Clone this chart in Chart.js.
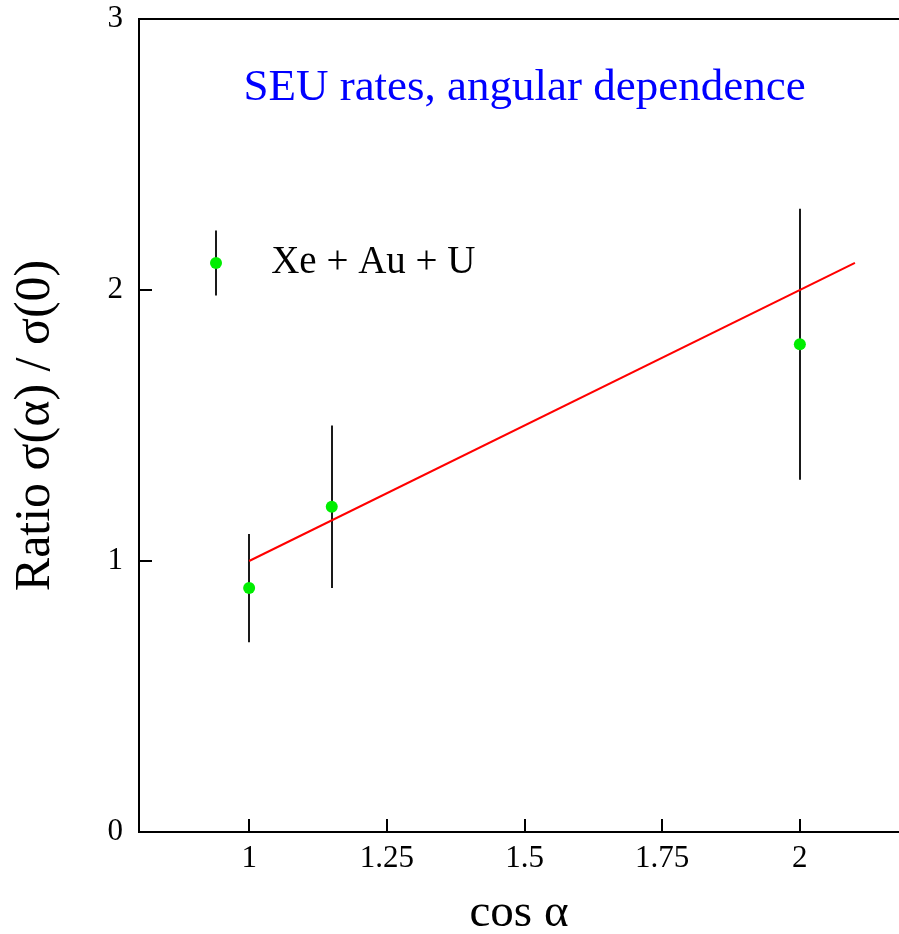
<!DOCTYPE html>
<html>
<head>
<meta charset="utf-8">
<script src="https://cdn.jsdelivr.net/npm/chart.js@4/dist/chart.umd.min.js"></script>
<style>
html,body{margin:0;padding:0;background:#fff;}
canvas{display:block;}
</style>
</head>
<body>
<canvas id="c" width="899" height="934"></canvas>
<script>
// ---- data ----
const cosAlpha = [1.0, 1.15, 2.0];
const ratio    = [0.9, 1.2, 1.8];
const errLow   = [0.7, 0.9, 1.3];
const errHigh  = [1.1, 1.5, 2.3];
const fitX     = [1.0, 2.1];
const fitY     = [1.0, 2.1];
const xTickValues = [1, 1.25, 1.5, 1.75, 2];
const xTickLabels = ['1', '1.25', '1.5', '1.75', '2'];
const yTickValues = [0, 1, 2, 3];
const yTickLabels = ['0', '1', '2', '3'];
const seriesName = 'Xe + Au + U';
const chartTitle = 'SEU rates, angular dependence';
// legend sample (in data units)
const legendSample = {x: 0.94, y: 2.1, low: 1.98, high: 2.22, textX: 1.04};
const titleAnchor = {x: 1.5, y: 2.745};

const SERIF = '"Liberation Serif", "DejaVu Serif", serif';

const decor = {
  id: 'decor',
  beforeDatasetsDraw(chart) {
    const {ctx, chartArea: a, scales: {x, y}} = chart;
    ctx.save();
    // top frame line
    ctx.strokeStyle = '#000';
    ctx.lineWidth = 2;
    ctx.beginPath();
    ctx.moveTo(a.left, a.top);
    ctx.lineTo(a.right, a.top);
    ctx.stroke();
    // inward ticks
    const tl = 13;
    ctx.beginPath();
    xTickValues.forEach(v => {
      const px = Math.round(x.getPixelForValue(v));
      ctx.moveTo(px, a.bottom);
      ctx.lineTo(px, a.bottom - tl);
    });
    yTickValues.forEach(v => {
      const py = Math.round(y.getPixelForValue(v));
      ctx.moveTo(a.left, py);
      ctx.lineTo(a.left + tl, py);
    });
    ctx.stroke();
    // error bars
    ctx.strokeStyle = '#1a1a1a';
    ctx.lineWidth = 2;
    ctx.beginPath();
    cosAlpha.forEach((cx, i) => {
      const px = Math.round(x.getPixelForValue(cx));
      ctx.moveTo(px, y.getPixelForValue(errLow[i]));
      ctx.lineTo(px, y.getPixelForValue(errHigh[i]));
    });
    // legend sample error bar
    const lx = Math.round(x.getPixelForValue(legendSample.x));
    ctx.moveTo(lx, y.getPixelForValue(legendSample.low));
    ctx.lineTo(lx, y.getPixelForValue(legendSample.high));
    ctx.stroke();
    // legend marker
    ctx.fillStyle = '#00ee00';
    ctx.beginPath();
    ctx.arc(lx, y.getPixelForValue(legendSample.y), 6, 0, Math.PI * 2);
    ctx.fill();
    // legend text
    ctx.fillStyle = '#000';
    ctx.font = '39px ' + SERIF;
    ctx.textBaseline = 'middle';
    ctx.textAlign = 'left';
    ctx.fillText(seriesName, x.getPixelForValue(legendSample.textX), y.getPixelForValue(legendSample.y));
    // title
    ctx.fillStyle = '#0000ff';
    ctx.font = '45px ' + SERIF;
    ctx.textAlign = 'center';
    ctx.fillText(chartTitle, x.getPixelForValue(titleAnchor.x), y.getPixelForValue(titleAnchor.y));
    ctx.restore();
  }
};

new Chart(document.getElementById('c'), {
  data: {
    datasets: [
      {
        type: 'line',
        label: 'fit',
        data: fitX.map((v, i) => ({x: v, y: fitY[i]})),
        borderColor: '#ff0000',
        borderWidth: 2,
        pointRadius: 0,
        fill: false,
        tension: 0,
        order: 2
      },
      {
        type: 'scatter',
        label: seriesName,
        data: cosAlpha.map((v, i) => ({x: v, y: ratio[i]})),
        backgroundColor: '#00ee00',
        borderWidth: 0,
        pointRadius: 6,
        pointHoverRadius: 6,
        order: 1
      }
    ]
  },
  options: {
    responsive: false,
    animation: false,
    devicePixelRatio: 1,
    layout: {autoPadding: false, padding: {top: 19, right: 0, left: 0, bottom: 0}},
    plugins: {legend: {display: false}, tooltip: {enabled: false}, title: {display: false}},
    scales: {
      x: {
        type: 'linear',
        min: 0.8,
        max: 2.18,
        afterBuildTicks: s => { s.ticks = xTickValues.map(v => ({value: v})); },
        afterFit: s => { s.height = 102; s.paddingLeft = 0; s.paddingRight = 0; },
        grid: {drawOnChartArea: false, drawTicks: false, color: 'rgba(0,0,0,0)'},
        border: {display: true, color: '#000', width: 2},
        ticks: {
          autoSkip: false, maxRotation: 0, padding: 8, color: '#000',
          font: {family: SERIF, size: 31},
          callback: (v) => xTickLabels[xTickValues.indexOf(v)] ?? ''
        },
        title: {
          display: true, text: 'cos α', color: '#000',
          font: {family: SERIF, size: 47, lineHeight: 1},
          padding: {top: 0, bottom: -3}
        }
      },
      y: {
        type: 'linear',
        min: 0,
        max: 3,
        afterBuildTicks: s => { s.ticks = yTickValues.map(v => ({value: v})); },
        afterFit: s => { s.width = 139; s.paddingTop = 0; s.paddingBottom = 0; },
        grid: {drawOnChartArea: false, drawTicks: false, color: 'rgba(0,0,0,0)'},
        border: {display: true, color: '#000', width: 2},
        ticks: {
          padding: 16, color: '#000',
          font: {family: SERIF, size: 31},
          callback: (v) => yTickLabels[yTickValues.indexOf(v)] ?? ''
        },
        title: {
          display: true, text: 'Ratio σ(α) / σ(0)', color: '#000',
          font: {family: SERIF, size: 50, lineHeight: 1},
          padding: {top: 11, bottom: 0}
        }
      }
    }
  },
  plugins: [decor]
});
</script>
</body>
</html>
